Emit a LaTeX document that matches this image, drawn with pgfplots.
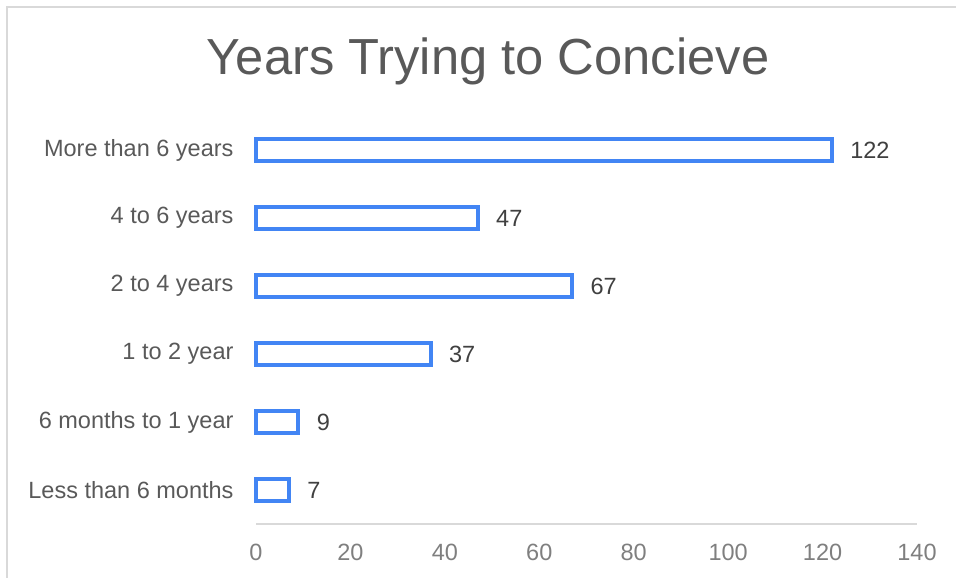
\documentclass[border=0pt]{standalone}
\usepackage{pgfplots}
\pgfplotsset{compat=1.18}
\usepackage{fontspec}
\setmainfont{Liberation Sans}
\definecolor{barblue}{HTML}{4285F4}
\definecolor{titlegray}{HTML}{595959}
\definecolor{labelgray}{HTML}{595959}
\definecolor{tickgray}{HTML}{7F7F7F}
\definecolor{valgray}{HTML}{404040}
\definecolor{framegray}{HTML}{D9D9D9}
\begin{document}
\begin{tikzpicture}[x=1bp,y=1bp]
  \useasboundingbox (0,0) rectangle (956,578);
  % frame (top and left edges only)
  \draw[framegray, line width=2bp] (7,0) -- (7,571) -- (956,571);
  \node[anchor=base, text=titlegray, font=\fontsize{50.7bp}{60bp}\selectfont] at (488,503) {Years Trying to Concieve};
  \begin{axis}[
    at={(256bp,54bp)}, anchor=south west,
    scale only axis,
    width=661bp, height=408bp,
    xbar,
    bar width=0.31,
    xmin=0, xmax=140,
    ymin=-0.5, ymax=5.5,
    xtick={0,20,...,140},
    ytick={0,1,2,3,4,5},
    yticklabels={Less than 6 months, 6 months to 1 year, 1 to 2 year, 2 to 4 years, 4 to 6 years, More than 6 years},
    major tick length=0,
    axis x line*=bottom,
    axis y line*=left,
    x axis line style={draw=framegray, line width=1.5bp, -},
    y axis line style={draw=none},
    tick label style={font=\fontsize{23.5bp}{28bp}\selectfont},
    xticklabel style={text=tickgray, yshift=-17bp},
    yticklabel style={text=labelgray, xshift=-19bp},
    /pgf/number format/assume math mode=true,
    nodes near coords,
    every node near coord/.append style={font=\fontsize{23.5bp}{28bp}\selectfont, text=valgray, xshift=13bp},
    clip=false,
  ]
  \addplot[draw=barblue, fill=white, line width=4bp] coordinates {
    (7,0)
    (9,1)
    (37,2)
    (67,3)
    (47,4)
    (122,5)
  };
  \end{axis}
\end{tikzpicture}
\end{document}
